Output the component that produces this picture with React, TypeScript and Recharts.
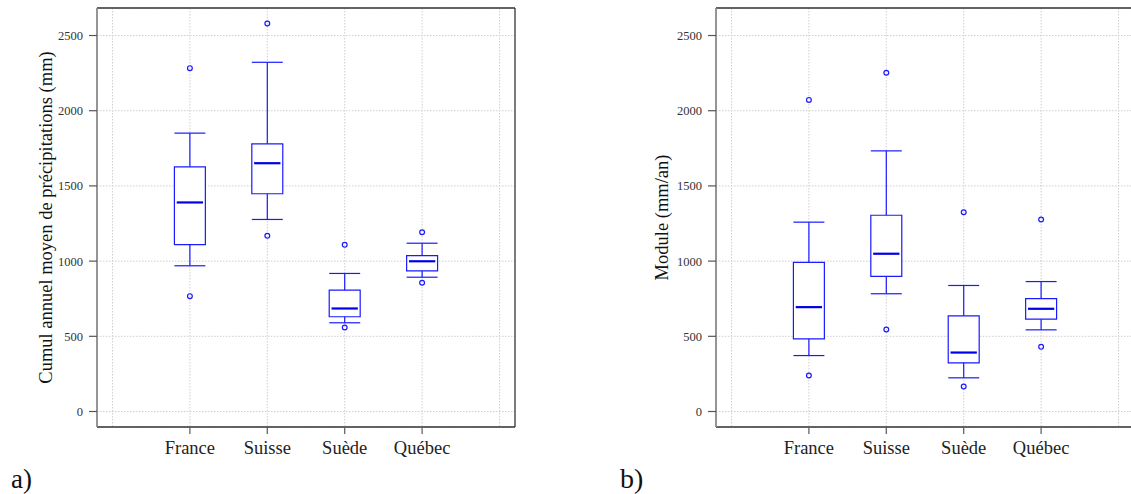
import React from 'react'
import {
  ComposedChart,
  Scatter,
  XAxis,
  YAxis,
  CartesianGrid,
  ReferenceArea,
  ReferenceLine,
} from 'recharts'

const categories = ['France', 'Suisse', 'Suède', 'Québec']
const positions = [1, 2, 3, 4]
const yTicks = [0, 500, 1000, 1500, 2000, 2500]
const gridX = [0, 1, 2, 3, 4, 5]

// a) cumul annuel moyen de précipitations (mm)
const precipMin = [969, 1277, 590, 893]
const precipQ1 = [1110, 1448, 630, 935]
const precipMedian = [1390, 1651, 685, 999]
const precipQ3 = [1627, 1780, 807, 1037]
const precipMax = [1851, 2322, 918, 1119]
const precipOutliers = [[767, 2283], [1168, 2580], [559, 1108], [856, 1192]]

// b) module (mm/an)
const moduleMin = [372, 783, 224, 543]
const moduleQ1 = [483, 898, 324, 614]
const moduleMedian = [694, 1049, 392, 683]
const moduleQ3 = [991, 1305, 636, 751]
const moduleMax = [1259, 1733, 838, 864]
const moduleOutliers = [[239, 2072], [545, 2252], [166, 1325], [430, 1277]]

const X_DOMAIN: [number, number] = [-0.2, 5.2]
const Y_DOMAIN: [number, number] = [-103, 2683]
const HALF = 0.2
const BLUE = '#1a1aff'

interface PanelProps {
  min: number[]
  q1: number[]
  median: number[]
  q3: number[]
  max: number[]
  outliers: number[][]
  width: number
  marginRight: number
}

const Outlier = (props: any) => {
  const { cx, cy } = props
  if (cx == null || cy == null) return null
  return <circle cx={cx} cy={cy} r={2.4} fill="none" stroke={BLUE} strokeWidth={1.2} />
}

// vertical grid at 0..5, through the x scale when we can get it
const gridGenerator = (p: any) => {
  const scale = p?.xAxis?.scale
  if (typeof scale === 'function') return gridX.map(v => scale(v))
  if (scale && typeof scale.map === 'function') return gridX.map(v => scale.map(v))
  const { offset } = p
  return gridX.map(
    v => offset.left + ((v - X_DOMAIN[0]) / (X_DOMAIN[1] - X_DOMAIN[0])) * offset.width
  )
}

function BoxPanel({ min, q1, median, q3, max, outliers, width, marginRight }: PanelProps) {
  const points = outliers.flatMap((vals, i) => vals.map(v => ({ x: positions[i], y: v })))

  return (
    <ComposedChart
      width={width}
      height={494}
      data={points}
      margin={{ top: 8, right: marginRight, bottom: 0, left: 0 }}
    >
      <CartesianGrid
        stroke="#cfcfcf"
        strokeDasharray="1.5 1.5"
        verticalCoordinatesGenerator={gridGenerator}
      />
      <XAxis
        type="number"
        dataKey="x"
        domain={X_DOMAIN}
        ticks={positions}
        allowDataOverflow
        height={67}
        interval={0}
        tickFormatter={(v: number) => categories[v - 1] ?? ''}
        axisLine={{ stroke: '#333', strokeWidth: 1.3 }}
        tickLine={{ stroke: '#666', strokeWidth: 1.3 }}
        tickSize={7}
        tickMargin={7}
        tick={{ fill: '#222', fontSize: 18.5, fontFamily: 'Liberation Serif' }}
      />
      <YAxis
        type="number"
        dataKey="y"
        domain={Y_DOMAIN}
        ticks={yTicks}
        allowDataOverflow
        width={97}
        interval={0}
        axisLine={{ stroke: '#8a8a8a', strokeWidth: 1.8 }}
        tickLine={{ stroke: '#555', strokeWidth: 1.2 }}
        tickSize={8}
        tickMargin={6}
        tick={{ fill: '#333', fontSize: 12.5, fontFamily: 'Liberation Serif' }}
      />
      <ReferenceLine y={Y_DOMAIN[1]} stroke="#333" strokeWidth={1.3} ifOverflow="visible" />
      <ReferenceLine x={X_DOMAIN[1]} stroke="#333" strokeWidth={1.3} ifOverflow="visible" />

      {positions.map((p, i) => (
        <ReferenceLine
          key={`wu-${i}`}
          segment={[{ x: p, y: q3[i] }, { x: p, y: max[i] }]}
          stroke={BLUE}
          strokeWidth={1.2}
        />
      ))}
      {positions.map((p, i) => (
        <ReferenceLine
          key={`wl-${i}`}
          segment={[{ x: p, y: min[i] }, { x: p, y: q1[i] }]}
          stroke={BLUE}
          strokeWidth={1.2}
        />
      ))}
      {positions.map((p, i) => (
        <ReferenceLine
          key={`cu-${i}`}
          segment={[{ x: p - HALF, y: max[i] }, { x: p + HALF, y: max[i] }]}
          stroke={BLUE}
          strokeWidth={1.2}
        />
      ))}
      {positions.map((p, i) => (
        <ReferenceLine
          key={`cl-${i}`}
          segment={[{ x: p - HALF, y: min[i] }, { x: p + HALF, y: min[i] }]}
          stroke={BLUE}
          strokeWidth={1.2}
        />
      ))}
      {positions.map((p, i) => (
        <ReferenceArea
          key={`box-${i}`}
          x1={p - HALF}
          x2={p + HALF}
          y1={q1[i]}
          y2={q3[i]}
          fill="#ffffff"
          fillOpacity={1}
          stroke={BLUE}
          strokeWidth={1.2}
        />
      ))}
      {positions.map((p, i) => (
        <ReferenceLine
          key={`med-${i}`}
          segment={[{ x: p - HALF + 0.03, y: median[i] }, { x: p + HALF - 0.03, y: median[i] }]}
          stroke="#0000e6"
          strokeWidth={2.2}
        />
      ))}
      <Scatter dataKey="y" shape={<Outlier />} isAnimationActive={false} />
    </ComposedChart>
  )
}

export default function App() {
  return (
    <div
      style={{
        position: 'absolute',
        left: 0,
        top: 0,
        width: 1131,
        height: 494,
        overflow: 'hidden',
        background: '#fff',
        fontFamily: 'Liberation Serif, serif',
      }}
    >
      <div style={{ position: 'absolute', left: 0, top: 0 }}>
        <BoxPanel
          min={precipMin}
          q1={precipQ1}
          median={precipMedian}
          q3={precipQ3}
          max={precipMax}
          outliers={precipOutliers}
          width={560}
          marginRight={45}
        />
      </div>
      <div style={{ position: 'absolute', left: 619, top: 0 }}>
        <BoxPanel
          min={moduleMin}
          q1={moduleQ1}
          median={moduleMedian}
          q3={moduleQ3}
          max={moduleMax}
          outliers={moduleOutliers}
          width={520}
          marginRight={5}
        />
      </div>
      <svg
        width={1131}
        height={494}
        style={{ position: 'absolute', left: 0, top: 0, pointerEvents: 'none' }}
      >
        <text
          transform="translate(52,217.5) rotate(-90)"
          textAnchor="middle"
          fontSize={18.5}
          fill="#111"
          fontFamily="Liberation Serif"
        >
          Cumul annuel moyen de précipitations (mm)
        </text>
        <text
          transform="translate(668,217.5) rotate(-90)"
          textAnchor="middle"
          fontSize={18.5}
          fill="#111"
          fontFamily="Liberation Serif"
        >
          Module (mm/an)
        </text>
        <text x={11} y={488} fontSize={27} fill="#111" fontFamily="Liberation Serif">
          a)
        </text>
        <text x={620} y={488} fontSize={28} fill="#111" fontFamily="Liberation Serif">
          b)
        </text>
      </svg>
    </div>
  )
}
